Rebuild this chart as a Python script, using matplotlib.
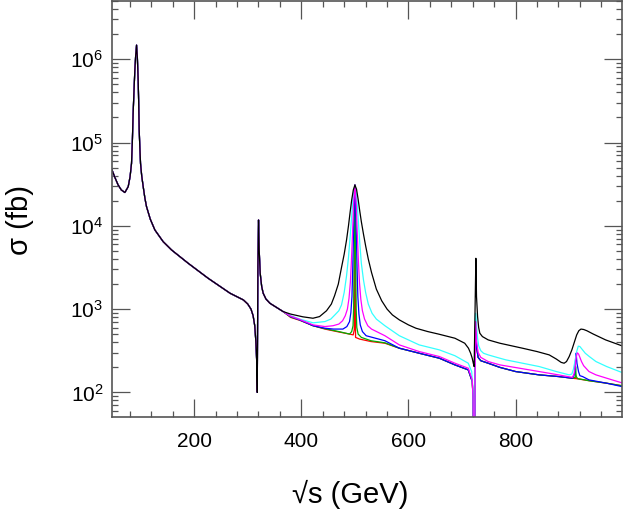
import numpy as np
import matplotlib
matplotlib.use("Agg")
import matplotlib.pyplot as plt
from matplotlib.ticker import MultipleLocator, LogLocator, NullFormatter

plt.rcParams['font.family'] = ['Liberation Sans', 'DejaVu Sans']
plt.rcParams['mathtext.fontset'] = 'custom'
plt.rcParams['mathtext.rm'] = 'Liberation Sans'

# sqrt(s) in GeV; values are log10(sigma / fb)
# ---- shared low-energy part ----
E_common = [46, 52, 58, 64, 70.6, 76.8, 80.3, 83, 84.5, 86, 87.5, 89.2, 90.8, 92.4, 93.9, 95.4,
            96.3, 97.3, 98.5, 99.8, 102, 104.8, 108, 111, 118, 126.6, 142, 157.7, 188.8, 226,
            267, 291.8, 300, 306, 310, 313, 315, 316.5, 317.7, 318.9, 320.1, 321.3, 323.2, 326,
            328.8, 334, 341.3, 366]
L_common = [4.68, 4.58, 4.49, 4.43, 4.40, 4.47, 4.59, 4.75, 5.0, 5.35, 5.6, 5.87, 6.05, 6.17, 6.02, 5.75,
            5.5, 5.15, 4.95, 4.75, 4.6, 4.47, 4.33, 4.23, 4.08, 3.95, 3.81, 3.71, 3.55, 3.37,
            3.19, 3.11, 3.06, 3.00, 2.92, 2.80, 2.62, 2.40, 2.0, 3.51, 4.07, 3.71, 3.43, 3.27,
            3.19, 3.12, 3.07, 2.97]

# ---- high-energy parts of each curve ----
E_black = [380, 403, 421.7, 434, 447, 456, 462, 469, 475, 480, 484.4, 488, 491, 494, 497, 500,
           503, 506, 509, 512, 516, 520, 525, 531, 540, 550, 560, 570, 583, 600, 614, 636, 656,
           686.7, 705, 712, 716, 719, 721, 722.6, 725.8, 727, 729, 731, 733.2, 738, 748.8, 770.6,
           813, 840, 862.7, 876, 885, 890.6, 895, 900, 905, 910, 914, 918, 922, 927, 933, 945,
           968, 998]
L_black = [2.94, 2.907, 2.89, 2.91, 2.98, 3.06, 3.16, 3.30, 3.50, 3.66, 3.83, 4.00, 4.16, 4.31, 4.43, 4.49,
           4.44, 4.32, 4.18, 4.05, 3.90, 3.76, 3.60, 3.44, 3.24, 3.10, 3.00, 2.93, 2.87, 2.81, 2.77, 2.73, 2.70,
           2.65, 2.59, 2.53, 2.47, 2.41, 2.35, 2.31, 3.61, 3.15, 2.91, 2.78, 2.71, 2.67, 2.63, 2.59,
           2.53, 2.49, 2.45, 2.40, 2.36, 2.35, 2.37, 2.43, 2.51, 2.61, 2.69, 2.74, 2.76, 2.755, 2.74, 2.70,
           2.63, 2.56]

E_cyan = [380, 397, 422, 444, 455, 462.6, 470, 475, 480, 484.4, 488, 491, 494, 497, 500, 503, 506,
          509, 512, 516, 520, 525, 532, 540, 556, 583, 620, 657.7, 686.7, 711.6, 718, 720.5, 721.5,
          723.5, 725.2, 727, 729, 731, 735, 740, 748.8, 770.6, 782, 844, 876, 900, 905, 908, 911,
          914, 917, 920, 925, 930, 937.6, 950, 970, 998]
L_cyan = [2.92, 2.88, 2.835, 2.85, 2.88, 2.93, 2.98, 3.05, 3.20, 3.40, 3.62, 3.86, 4.12, 4.38, 4.49, 4.38, 4.10,
          3.80, 3.55, 3.35, 3.20, 3.06, 2.95, 2.88, 2.80, 2.68, 2.57, 2.51, 2.44, 2.35, 2.25, 2.0, 1.3,
          1.3, 2.95, 2.80, 2.65, 2.56, 2.50, 2.47, 2.45, 2.41, 2.39, 2.31, 2.25, 2.21, 2.22, 2.28, 2.38,
          2.49, 2.555, 2.55, 2.51, 2.47, 2.43, 2.37, 2.31, 2.24]

E_magenta = [380, 397, 422, 444, 459, 470, 477, 482, 486, 489, 491.5, 493.5, 495.5, 497.5, 500,
             502.5, 504.5, 506.5, 508.5, 511, 514, 518, 524, 531, 556, 583, 620, 657.7, 686.7,
             711.6, 719, 720.5, 721.5, 723.5, 725.2, 727, 730, 735, 748.8, 770.6, 844, 880, 906,
             909, 911, 913, 915, 917.5, 920, 923, 927, 937, 950, 970, 998]
L_magenta = [2.915, 2.875, 2.81, 2.79, 2.80, 2.82, 2.86, 2.92, 3.00, 3.13, 3.32, 3.58, 3.90, 4.25, 4.49,
             4.25, 3.90, 3.58, 3.32, 3.12, 2.98, 2.88, 2.80, 2.76, 2.68, 2.57, 2.49, 2.43, 2.35,
             2.29, 2.15, 1.95, 1.3, 1.3, 2.85, 2.62, 2.48, 2.42, 2.37, 2.33, 2.25, 2.21, 2.18,
             2.22, 2.30, 2.42, 2.475, 2.46, 2.42, 2.37, 2.32, 2.25, 2.21, 2.17, 2.115]

E_blue = [380, 397, 422, 444, 460, 477.6, 485, 490, 492.5, 494.5, 496, 497.5, 499, 500, 501, 502.5,
          504, 505.5, 507.5, 510, 514, 521, 556, 583, 620, 657.7, 686.7, 711.6, 719, 720.5, 721.5,
          723.5, 725.2, 727, 730, 735, 748.8, 770.6, 800, 844, 880, 906, 910, 912, 913, 914.5,
          917.4, 920, 925, 937, 970, 998]
L_blue = [2.91, 2.87, 2.80, 2.77, 2.76, 2.76, 2.79, 2.85, 2.96, 3.15, 3.50, 3.95, 4.35, 4.49, 4.35, 3.95,
          3.50, 3.15, 2.94, 2.81, 2.73, 2.68, 2.62, 2.53, 2.47, 2.41, 2.33, 2.27, 2.13, 1.95, 1.3,
          1.3, 2.8, 2.55, 2.42, 2.38, 2.35, 2.30, 2.25, 2.21, 2.19, 2.17, 2.22, 2.40, 2.47, 2.35,
          2.25, 2.20, 2.19, 2.15, 2.11, 2.07]

E_green = [380, 397, 422, 444, 470, 490, 494, 496.5, 497.6, 498.5, 499.3, 500, 500.7, 501.5, 502.4,
           503.5, 506, 512, 530, 556, 583, 620, 657.7, 686.7, 711.6, 719, 720.5, 721.5, 723.5,
           725.2, 727, 730, 735, 748.8, 770.6, 800, 844, 880, 906, 911, 912, 913, 916, 937, 970, 998]
L_green = [2.905, 2.87, 2.80, 2.765, 2.73, 2.70, 2.73, 2.80, 3.0, 3.5, 4.2, 4.49, 4.2, 3.5, 3.0,
           2.78, 2.70, 2.66, 2.62, 2.595, 2.53, 2.47, 2.41, 2.33, 2.27, 2.13, 1.95, 1.3, 1.3,
           2.78, 2.55, 2.42, 2.38, 2.35, 2.30, 2.25, 2.21, 2.19, 2.17, 2.18, 2.31, 2.19, 2.165, 2.14, 2.11, 2.08]

E_red = [380, 397, 422, 444, 470, 490, 496.8, 498.8, 499.5, 500, 500.5, 501.2, 508.7, 530, 556, 583,
         620, 657.7, 686.7, 711.6, 719, 720.5, 721.5, 723.5, 725.2, 727, 730, 735, 748.8, 770.6, 800,
         844, 880, 906, 911.5, 912.3, 913, 937, 970, 998]
L_red = [2.90, 2.865, 2.80, 2.76, 2.725, 2.70, 2.69, 2.75, 3.8, 4.49, 3.8, 2.66, 2.64, 2.61, 2.59, 2.53,
         2.47, 2.41, 2.33, 2.27, 2.13, 1.95, 1.3, 1.3, 2.76, 2.55, 2.42, 2.38, 2.35, 2.30, 2.25,
         2.21, 2.19, 2.17, 2.165, 2.20, 2.165, 2.14, 2.11, 2.08]

curves = [
    (E_red, L_red, '#ff0000'),
    (E_green, L_green, '#00b000'),
    (E_blue, L_blue, '#0000ff'),
    (E_cyan, L_cyan, '#33ffff'),
    (E_magenta, L_magenta, '#ff00ff'),
    (E_black, L_black, '#000000'),
]

fig = plt.figure(figsize=(6.23, 5.11), dpi=100)
ax = fig.add_axes([0.1793, 0.1845, 0.8191, 0.8135])

for E_hi, L_hi, col in curves:
    x = np.array(E_common + E_hi)
    y = 10.0 ** np.array(L_common + L_hi)
    ax.plot(x, y, color=col, lw=0.9)

ax.set_yscale('log')
ax.set_xlim(46, 998.6)
ax.set_ylim(51, 5.0e6)

ax.xaxis.set_major_locator(MultipleLocator(200))
ax.xaxis.set_minor_locator(MultipleLocator(40))
ax.yaxis.set_major_locator(LogLocator(base=10, numticks=20))
ax.yaxis.set_minor_locator(LogLocator(base=10, subs=np.arange(2, 10), numticks=50))
ax.yaxis.set_minor_formatter(NullFormatter())

ax.tick_params(which='both', direction='in', top=True, right=True, color='#555555', width=0.9)
ax.tick_params(which='major', length=13, labelsize=15)
ax.tick_params(which='minor', length=4)
ax.tick_params(axis='x', which='major', pad=11)
ax.tick_params(axis='y', which='major', pad=6)

for sp in ax.spines.values():
    sp.set_color('#555555')
    sp.set_linewidth(1.2)

ax.set_xlabel('√s (GeV)', fontsize=21)
ax.set_ylabel('σ (fb)', fontsize=21)
ax.xaxis.set_label_coords(0.467, -0.188)
ax.yaxis.set_label_coords(-0.18, 0.473)
ax.xaxis.label.set_va('center')
ax.yaxis.label.set_va('center')

fig.savefig('out.png', dpi=100)
